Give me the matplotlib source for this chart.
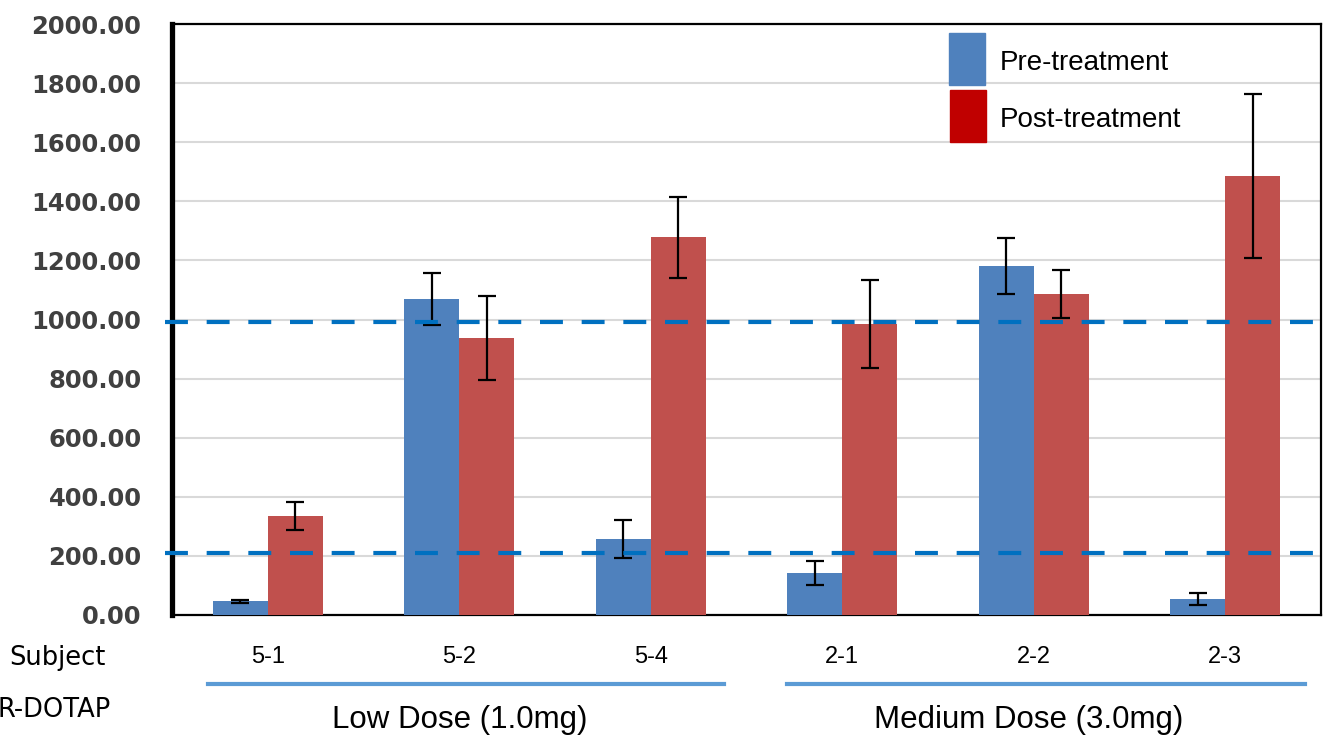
import matplotlib
matplotlib.use("Agg")
import matplotlib.pyplot as plt
from matplotlib.patches import Rectangle
from matplotlib.lines import Line2D
import numpy as np

subjects = ["5-1", "5-2", "5-4", "2-1", "2-2", "2-3"]
pre_values = [47, 1069, 257, 142, 1181, 54]
pre_err = [5, 87, 65, 40, 95, 20]
post_values = [335, 937, 1279, 985, 1086, 1486]
post_err = [46, 142, 137, 149, 80, 278]
ref_lines = [991, 209]
groups = ["Low Dose (1.0mg)", "Medium Dose (3.0mg)"]
series_names = ["Pre-treatment", "Post-treatment"]
yticks = [0, 200, 400, 600, 800, 1000, 1200, 1400, 1600, 1800, 2000]

W, H = 1325, 740
fig = plt.figure(figsize=(W / 100, H / 100), dpi=100)
ax = fig.add_axes([172 / W, 1 - 615 / H, (1321 - 172) / W, (615 - 24) / H])

x = np.arange(len(subjects))
bw = 0.287
blue = "#4F81BD"
red = "#C0504D"
ax.bar(x - bw / 2, pre_values, bw, color=blue, zorder=3)
ax.bar(x + bw / 2, post_values, bw, color=red, zorder=3)
ekw = dict(fmt="none", ecolor="black", elinewidth=1.6, capsize=6.5, capthick=1.6, zorder=4)
ax.errorbar(x - bw / 2, pre_values, yerr=pre_err, **ekw)
ax.errorbar(x + bw / 2, post_values, yerr=post_err, **ekw)

for v in ref_lines:
    ax.axhline(v, xmin=-0.006, xmax=1.004, color="#0070C0", lw=3, ls=(0, (5.5, 4.5)),
               clip_on=False, zorder=5)

ax.set_xlim(-0.5, len(subjects) - 0.5)
ax.set_ylim(0, 2000)
ax.set_yticks(yticks)
ax.set_yticklabels([f"{v:.2f}" for v in yticks], fontsize=17.5, fontweight="bold",
                   color="#404040", family="DejaVu Sans")
ax.tick_params(axis="y", length=0, pad=22)
ax.set_xticks([])
ax.grid(axis="y", color="#D9D9D9", lw=1.5, zorder=0)
ax.set_axisbelow(True)

ax.spines["left"].set_linewidth(3.8)
for s in ["top", "right", "bottom"]:
    ax.spines[s].set_linewidth(1.6)
for s in ax.spines.values():
    s.set_color("black")

# x category labels
for xi, lab in zip(x, subjects):
    ax.text(xi, -0.071, lab, transform=ax.get_xaxis_transform(), ha="center", va="center",
            fontsize=17, family="Liberation Sans", color="black")

fig.text(57 / W, 1 - 658 / H, "Subject", ha="center", va="center", fontsize=18.5,
         family="DejaVu Sans", color="black")
fig.text(111 / W, 1 - 710 / H, "R-DOTAP", ha="right", va="center", fontsize=18.5,
         family="DejaVu Sans", color="black")

# group underline bars
for (x0, x1) in [(208, 724), (787, 1305)]:
    fig.add_artist(Line2D([x0 / W, x1 / W], [1 - 684 / H, 1 - 684 / H], color="#5B9BD5", lw=3))
fig.text(460 / W, 1 - 720 / H, groups[0], ha="center", va="center", fontsize=22.5,
         family="Liberation Sans")
fig.text(1029 / W, 1 - 720 / H, groups[1], ha="center", va="center", fontsize=22.5,
         family="Liberation Sans")

# legend
fig.add_artist(Rectangle((949 / W, 1 - 85 / H), 36 / W, 52 / H, color=blue, transform=fig.transFigure))
fig.add_artist(Rectangle((950 / W, 1 - 142 / H), 36 / W, 52 / H, color="#C00000", transform=fig.transFigure))
fig.text(1000 / W, 1 - 63 / H, series_names[0], ha="left", va="center", fontsize=20,
         family="Liberation Sans")
fig.text(1000 / W, 1 - 120 / H, series_names[1], ha="left", va="center", fontsize=20,
         family="Liberation Sans")

fig.savefig("out.png", dpi=100)
